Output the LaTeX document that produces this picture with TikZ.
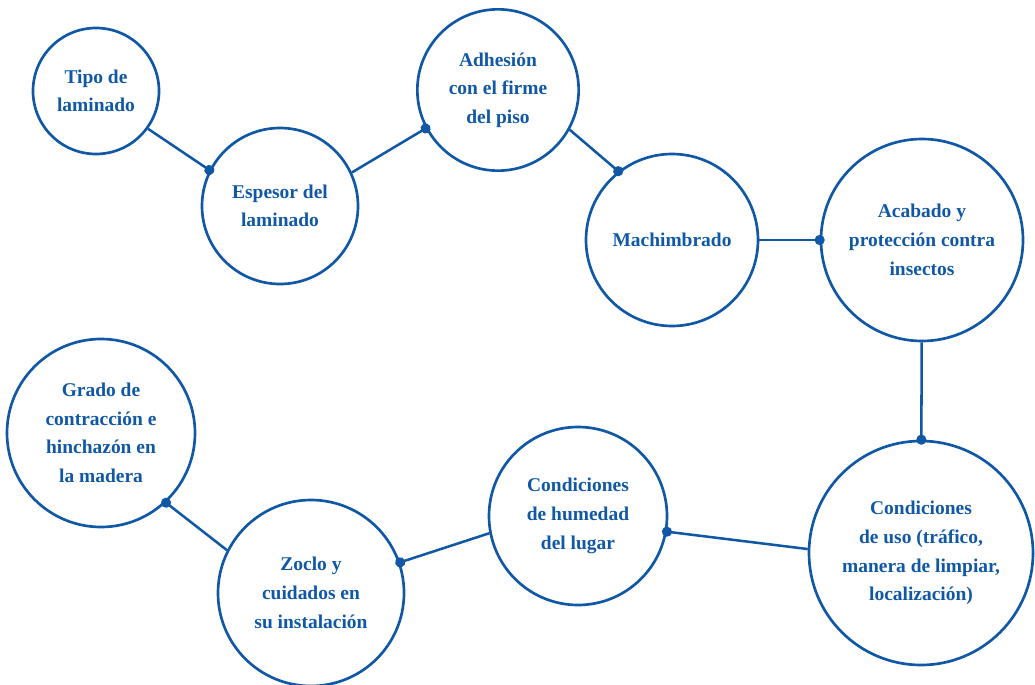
\documentclass[tikz,border=0pt]{standalone}
\usepackage{fontspec}
\setmainfont{Liberation Serif}
\usetikzlibrary{arrows.meta}

\definecolor{azul}{RGB}{16,88,166}

\begin{document}
\begin{tikzpicture}[x=0.75pt, y=-0.75pt, align=center]
  \tikzstyle{bubble} = [circle, draw=azul, line width=2pt, inner sep=0pt, text=azul,
                        font=\bfseries\fontsize{14.6}{21.5}\selectfont]
  \tikzstyle{link} = [-{Circle[length=7.5pt]}, draw=azul, line width=1.9pt, shorten >=-3.75pt]

  \useasboundingbox (0,0) rectangle (1035,685);

  \node[bubble, minimum size=94.5pt] (tipo) at (96,91) {Tipo de\\laminado};
  \node[bubble, minimum size=117pt] (espesor) at (280,206) {Espesor del\\laminado};
  \node[bubble, minimum size=121pt] (adhesion) at (498,90) {Adhesión\\con el firme\\del piso};
  \node[bubble, minimum size=129pt] (machi) at (672,240) {Machimbrado};
  \node[bubble, minimum size=151.5pt] (acabado) at (922,240) {Acabado y\\protección contra\\insectos};
  \node[bubble, minimum size=168pt] (uso) at (921,553) {Condiciones\\de uso (tráfico,\\manera de limpiar,\\localización)};
  \node[bubble, minimum size=133.5pt] (humedad) at (578,516) {Condiciones\\de humedad\\del lugar};
  \node[bubble, minimum size=139.5pt] (zoclo) at (311,593) {Zoclo y\\cuidados en\\su instalación};
  \node[bubble, minimum size=141pt] (grado) at (101,433) {Grado de\\contracción e\\hinchazón en\\la madera};

  \draw[link] (tipo.-36) -- (espesor.153);
  \draw[link] (espesor.25) -- (adhesion.-152);
  \draw[link] (adhesion.-29) -- (machi.128);
  \draw[link] (machi) -- (acabado);
  \draw[link] (acabado) -- (uso);
  \draw[link] (uso.178) -- (humedad.-10);
  \draw[link] (humedad.-169) -- (zoclo.19);
  \draw[link] (zoclo.153) -- (grado.-47);
\end{tikzpicture}
\end{document}
